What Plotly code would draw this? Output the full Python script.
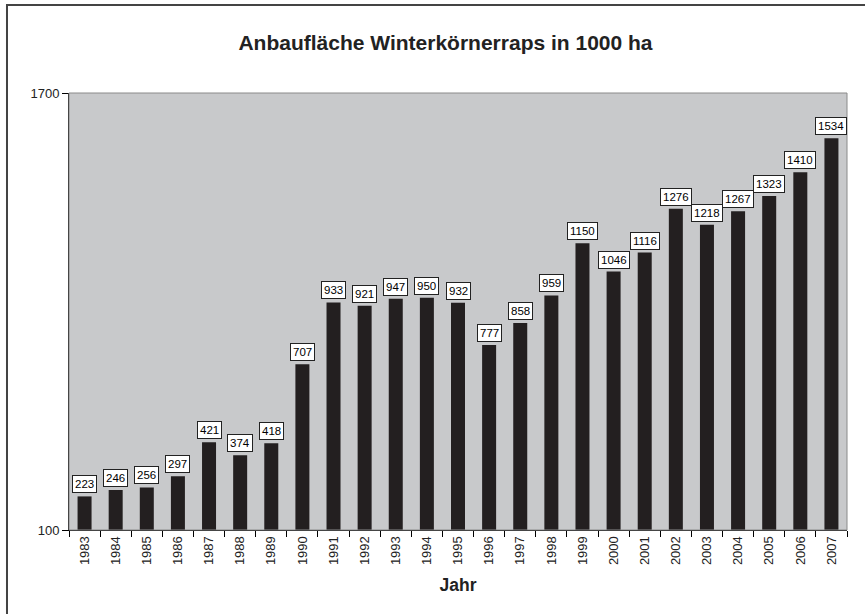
import plotly.graph_objects as go

years = [str(y) for y in range(1983, 2008)]
values = [223, 246, 256, 297, 421, 374, 418, 707, 933, 921, 947, 950, 932,
          777, 858, 959, 1150, 1046, 1116, 1276, 1218, 1267, 1323, 1410, 1534]
title_text = "Anbaufläche Winterkörnerraps in 1000 ha"
x_title = "Jahr"
y_ticks = [100, 1700]

FONT = "Liberation Sans, Arial, sans-serif"

fig = go.Figure()
fig.add_trace(go.Bar(
    x=years, y=values, base=0,
    marker=dict(color="#231f20", line=dict(width=0)),
    hoverinfo="x+y",
))

# value labels (category index positions on the category axis)
for i, v in enumerate(values):
    fig.add_annotation(
        x=i, y=v, xref="x", yref="y", text=str(v), showarrow=False,
        yanchor="bottom", yshift=3,
        bgcolor="white", bordercolor="#222222", borderwidth=1, borderpad=2,
        font=dict(family=FONT, size=11.5, color="black"),
    )

# outer chart frame
fig.add_shape(type="rect", xref="paper", yref="paper",
              x0=-0.0797, x1=1.03, y0=-0.22, y1=1.2014,
              line=dict(color="#444444", width=2), layer="below")
# plot area border (top/right)
fig.add_shape(type="rect", xref="paper", yref="paper",
              x0=0, x1=1, y0=0, y1=1,
              line=dict(color="#8a8a8a", width=1), layer="above")

fig.update_layout(
    width=865, height=614,
    margin=dict(l=69, r=18, t=93, b=84),
    paper_bgcolor="white",
    plot_bgcolor="#c8c9cb",
    bargap=0.55,
    showlegend=False,
    title=dict(text="<b>" + title_text + "</b>", x=445.5 / 865, xref="container",
               xanchor="center", y=1 - 43 / 614, yanchor="middle",
               font=dict(family=FONT, size=21, color="#222222")),
    font=dict(family=FONT, size=13, color="#222222"),
)
fig.update_xaxes(
    type="category", range=[-0.5, len(years) - 0.5],
    ticks="outside", tickson="boundaries", ticklen=6,
    tickcolor="black", tickangle=-90, showline=True, linecolor="black",
    linewidth=1, showgrid=False,
    tickfont=dict(family=FONT, size=13, color="#222222"),
    title=dict(text="<b>" + x_title + "</b>",
               font=dict(family=FONT, size=17.5, color="#222222"), standoff=14),
)
fig.update_yaxes(
    range=[100, 1700], tickvals=y_ticks, ticks="outside", ticklen=6,
    tickcolor="black", showline=True, linecolor="black", linewidth=1,
    showgrid=False, zeroline=False,
    tickfont=dict(family=FONT, size=13, color="#222222"),
)

fig.write_html("out.html",
               config={"displayModeBar": False},
               post_script="document.body.style.margin='0';document.body.style.overflow='hidden';")
